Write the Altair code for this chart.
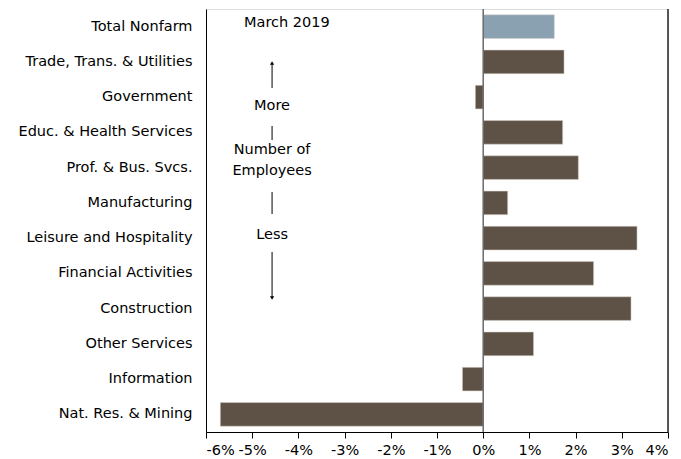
import altair as alt
import pandas as pd

categories = ["Total Nonfarm", "Trade, Trans. & Utilities", "Government",
              "Educ. & Health Services", "Prof. & Bus. Svcs.", "Manufacturing",
              "Leisure and Hospitality", "Financial Activities", "Construction",
              "Other Services", "Information", "Nat. Res. & Mining"]
values = [1.54, 1.75, -0.17, 1.72, 2.06, 0.53, 3.33, 2.39, 3.20, 1.09, -0.45, -5.69]
kinds = ["total"] + ["sector"] * 11
x_ticks = [-6, -5, -4, -3, -2, -1, 0, 1, 2, 3, 4]

FONT = "DejaVu Sans"
FS = 14.5

df = pd.DataFrame({"cat": categories, "val": [v / 100 for v in values], "kind": kinds})

xscale = alt.Scale(domain=[-0.06, 0.04], nice=False, zero=False)
yscale = alt.Scale(domain=categories, paddingInner=0.33, paddingOuter=0.165)

bars = alt.Chart(df).mark_bar(stroke="#d8d2cc", strokeWidth=0.5).encode(
    x=alt.X("val:Q", scale=xscale,
            axis=alt.Axis(values=[t / 100 for t in x_ticks],
                          labelExpr="toString(round(datum.value*100)) + '%'",
                          labelOverlap=False, grid=False,
                          tickSize=6, tickColor="black", domainColor="black",
                          labelFontSize=FS, labelColor="black", labelPadding=5,
                          labelFont=FONT, title=None)),
    y=alt.Y("cat:N", scale=yscale, sort=categories,
            axis=alt.Axis(ticks=False, domain=True, domainColor="black",
                          labelFontSize=FS, labelColor="black",
                          labelFont=FONT, labelPadding=14, title=None, labelLimit=300)),
    color=alt.Color("kind:N", scale=alt.Scale(domain=["total", "sector"],
                                              range=["#8aa1b1", "#5e5246"]), legend=None),
)

zero = alt.Chart(pd.DataFrame({"z": [0.0]})).mark_rule(color="#6a6a6a", strokeWidth=1.5).encode(
    x=alt.X("z:Q", scale=xscale))

right_edge = alt.Chart(pd.DataFrame({"z": [0.04]})).mark_rule(color="#222", strokeWidth=1.5).encode(
    x=alt.X("z:Q", scale=xscale))

# annotation text (label, x in %, y pixel)
ann_text = ["March 2019", "More", "Number of", "Employees", "Less"]
ann_x = [-4.25, -4.57, -4.57, -4.57, -4.57]
ann_y = [14, 97, 141, 162, 226]
ann_df = pd.DataFrame({"t": ann_text, "x": [v / 100 for v in ann_x], "y": ann_y})
ann = alt.Chart(ann_df).mark_text(fontSize=FS, font=FONT, color="black", align="center").encode(
    x=alt.X("x:Q", scale=xscale), y=alt.Y("y:Q", scale=None), text="t:N")

seg_y1 = [55, 117, 183, 243]
seg_y2 = [79, 131, 205, 288]
seg_df = pd.DataFrame({"x": [-0.0457] * 4, "y1": seg_y1, "y2": seg_y2})
segs = alt.Chart(seg_df).mark_rule(color="black", strokeWidth=1).encode(
    x=alt.X("x:Q", scale=xscale), y=alt.Y("y1:Q", scale=None), y2="y2:Q")

head_df = pd.DataFrame({"x": [-0.0457, -0.0457], "y": [54, 289], "s": ["triangle-up", "triangle-down"]})
heads = alt.Chart(head_df).mark_point(filled=True, color="black", size=18, opacity=1).encode(
    x=alt.X("x:Q", scale=xscale), y=alt.Y("y:Q", scale=None),
    shape=alt.Shape("s:N", scale=alt.Scale(domain=["triangle-up", "triangle-down"],
                                            range=["triangle-up", "triangle-down"]), legend=None))

chart = alt.layer(bars, zero, right_edge, segs, heads, ann).properties(
    width=462, height=423, padding={"left": 9, "top": 0, "right": 0, "bottom": 0}
).configure_view(stroke="#888", strokeWidth=1.5).configure(background="white")

chart.save("out.html", embed_options={"renderer": "svg", "actions": False})
